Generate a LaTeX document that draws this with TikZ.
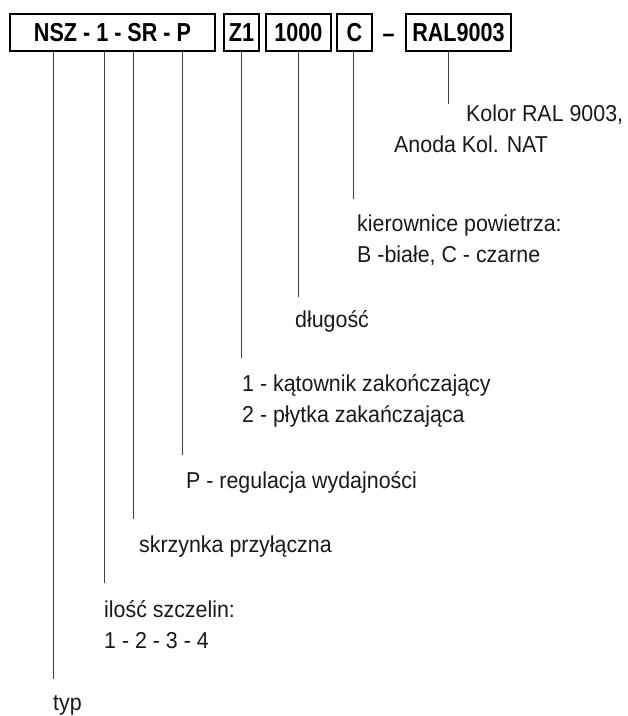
\documentclass[tikz,border=0pt]{standalone}
\usepackage{fontspec}
\setmainfont{Liberation Sans}[FakeStretch=0.93]
\newfontfamily\codefont{Liberation Sans}[FakeStretch=0.83]

\begin{document}
\begin{tikzpicture}[x=1pt, y=-1pt,
  codebox/.style={draw, line width=1.6pt, minimum height=37.5pt, inner sep=0pt,
    font=\codefont\bfseries\fontsize{26}{30}\selectfont},
  lead/.style={line width=0.9pt, black!75},
  desc/.style={anchor=base west, inner sep=0pt, align=left, text=black!90,
    font=\fontsize{23}{30.5}\selectfont}]
  \useasboundingbox (0,0) rectangle (628,716);

  \node[codebox, minimum width=205.5pt] (kod) at (112.5,32.5) {NSZ - 1 - SR - P};
  \node[codebox, minimum width=35.5pt] (konc) at (241.5,32.5) {Z1};
  \node[codebox, minimum width=65.5pt] (dl) at (298.5,32.5) {1000};
  \node[codebox, minimum width=35.5pt] (kier) at (354.5,32.5) {C};
  \node[anchor=base, inner sep=0pt, font=\codefont\bfseries\fontsize{26}{30}\selectfont] (dash) at (388.5,42) {–};
  \node[codebox, minimum width=105.5pt] (kolor) at (458.5,32.5) {RAL9003};

  \coordinate (e-typ) at (53,679);
  \coordinate (e-szcz) at (104,583);
  \coordinate (e-skrz) at (133,519);
  \coordinate (e-reg) at (182,455);
  \coordinate (e-konc) at (241.5,358);
  \coordinate (e-dl) at (298.5,297);
  \coordinate (e-kier) at (353.5,199);
  \coordinate (e-kolor) at (448,104);

  \draw[lead] (kod.south -| e-typ) -- (e-typ);
  \draw[lead] (kod.south -| e-szcz) -- (e-szcz);
  \draw[lead] (kod.south -| e-skrz) -- (e-skrz);
  \draw[lead] (kod.south -| e-reg) -- (e-reg);
  \draw[lead] (konc.south -| e-konc) -- (e-konc);
  \draw[lead] (dl.south -| e-dl) -- (e-dl);
  \draw[lead] (kier.south -| e-kier) -- (e-kier);
  \draw[lead] (kolor.south -| e-kolor) -- (e-kolor);

  % base of a two-line node = its last line
  \node[desc] (t-kolor) at (466,121) {Kolor RAL 9003,};
  \node[desc] (t-anoda) at (394,152) {Anoda Kol. NAT};
  \node[desc] (t-kier) at (357,262) {kierownice powietrza:\\B -białe, C - czarne};
  \node[desc] (t-dl) at (295,327) {długość};
  \node[desc] (t-konc) at (242,422) {1 - kątownik zakończający\\2 - płytka zakańczająca};
  \node[desc] (t-reg) at (186,488) {P - regulacja wydajności};
  \node[desc] (t-skrz) at (139,552) {skrzynka przyłączna};
  \node[desc] (t-szcz) at (104,648) {ilość szczelin:\\1 - 2 - 3 - 4};
  \node[desc] (t-typ) at (53,710) {typ};
\end{tikzpicture}
\end{document}
